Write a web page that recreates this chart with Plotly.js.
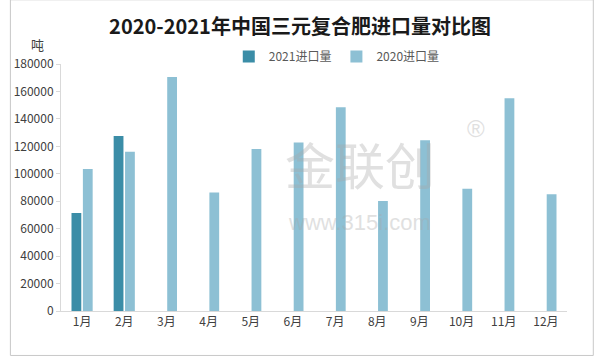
<!DOCTYPE html>
<html>
<head>
<meta charset="utf-8">
<script src="https://cdn.plot.ly/plotly-3.0.1.min.js"></script>
<style>
html,body{margin:0;padding:0;background:#fff;}
#chart{width:600px;height:356px;}
</style>
</head>
<body>
<div id="chart"></div>
<script>
const months = ["1月","2月","3月","4月","5月","6月","7月","8月","9月","10月","11月","12月"];
const imports2021 = [71500, 127600, null, null, null, null, null, null, null, null, null, null];
const imports2020 = [103400, 116000, 170500, 86400, 118000, 122800, 148500, 80100, 124500, 89100, 155000, 85000];
const seriesNames = ["2021进口量", "2020进口量"];
const yTicks = [0, 20000, 40000, 60000, 80000, 100000, 120000, 140000, 160000, 180000];

const FONT = "'Noto Sans CJK SC', 'Microsoft YaHei', sans-serif";

const traces = [
  {type: "bar", name: seriesNames[0], x: months, y: imports2021, marker: {color: "#3b8da7"}},
  {type: "bar", name: seriesNames[1], x: months, y: imports2020, marker: {color: "#8dc0d4"}}
];

const layout = {
  width: 600, height: 356,
  paper_bgcolor: "#ffffff", plot_bgcolor: "#ffffff",
  margin: {l: 61, r: 33, t: 64, b: 44.5},
  font: {family: FONT, color: "#595959", size: 12},
  title: {text: "<b>2020-2021年中国三元复合肥进口量对比图</b>", x: 0.5, xanchor: "center", y: 0.925, yanchor: "middle",
          font: {family: FONT, size: 20, color: "#1a1a1a"}},
  barmode: "group", bargap: 0.46, bargroupgap: 0.14,
  showlegend: true,
  legend: {orientation: "h", x: 0.545, xanchor: "center", y: 1.03, yanchor: "middle",
           font: {family: FONT, size: 12, color: "#595959"}, itemwidth: 30, traceorder: "normal"},
  xaxis: {type: "category", showline: true, linecolor: "#d9d9d9", linewidth: 1, ticks: "",
          showgrid: false, tickfont: {family: FONT, size: 12, color: "#404040"}, fixedrange: true},
  yaxis: {range: [0, 180000], tickvals: yTicks, ticktext: yTicks.map(String), showgrid: false,
          zeroline: false, showline: true, linecolor: "#d9d9d9", ticks: "outside", ticklen: 4,
          tickcolor: "#d9d9d9", tickfont: {family: FONT, size: 12, color: "#404040"}, fixedrange: true},
  annotations: [
    {text: "吨", xref: "paper", yref: "paper", x: -0.03, y: 1.08, xanchor: "right", yanchor: "middle",
     showarrow: false, font: {family: FONT, size: 13, color: "#404040"}},
    {text: "金联创", xref: "paper", yref: "paper", x: 0.59, y: 0.6, xanchor: "center", yanchor: "middle",
     showarrow: false, opacity: 0.35, font: {family: FONT, size: 50, color: "#a8a8a8"}},
    {text: "www.315i.com", xref: "paper", yref: "paper", x: 0.59, y: 0.36, xanchor: "center", yanchor: "middle",
     showarrow: false, opacity: 0.35, font: {family: "Liberation Sans, sans-serif", size: 22, color: "#a8a8a8"}},
    {text: "®", xref: "paper", yref: "paper", x: 0.82, y: 0.74, xanchor: "center", yanchor: "middle",
     showarrow: false, opacity: 0.35, font: {family: "Liberation Sans, sans-serif", size: 24, color: "#a8a8a8"}}
  ],
  shapes: [
    {type: "rect", xref: "paper", yref: "paper", x0: -0.1, x1: 1.052, y0: -0.18, y1: 1.26,
     line: {color: "#c8c8c8", width: 1}, fillcolor: "rgba(0,0,0,0)", layer: "below"}
  ]
};

Plotly.newPlot("chart", traces, layout, {displayModeBar: false, staticPlot: true});
</script>
</body>
</html>
